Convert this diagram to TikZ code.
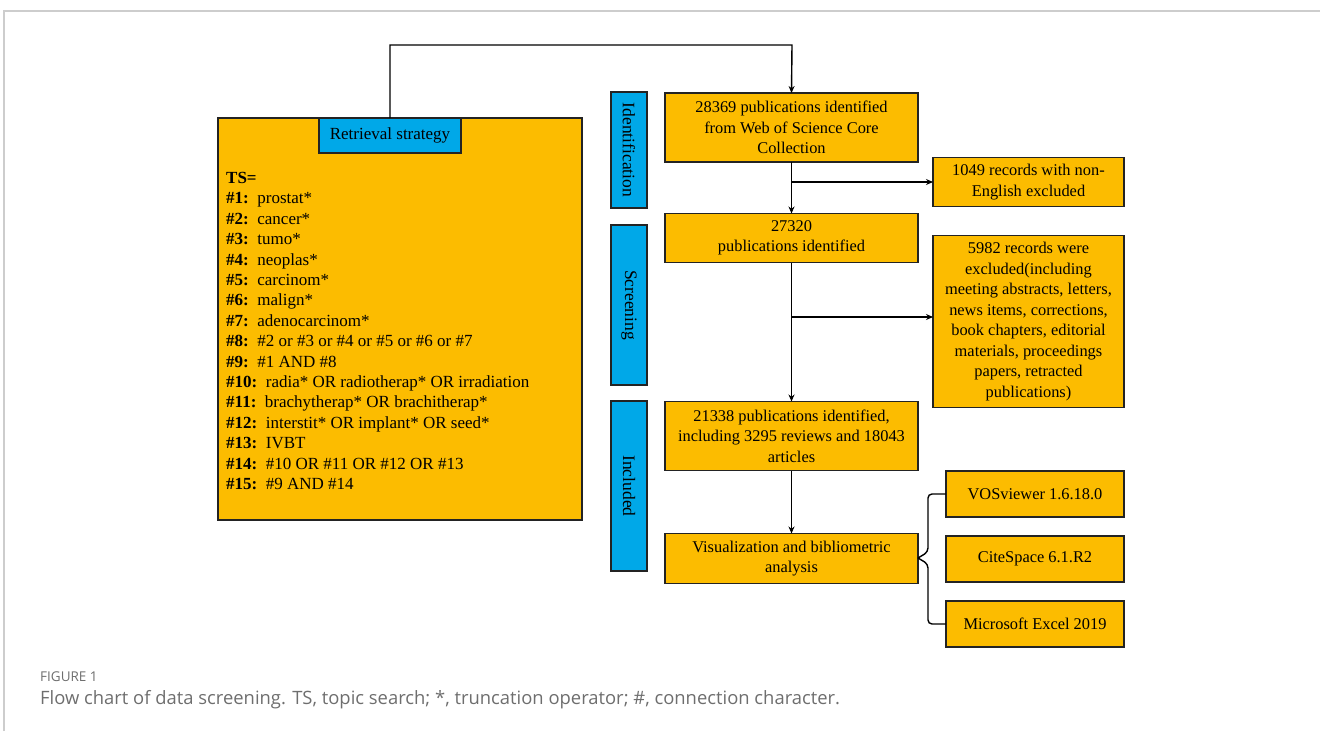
\documentclass[tikz,border=0pt]{standalone}
\usepackage{fontspec}
\setmainfont{Liberation Serif}
\newfontfamily\capfont{Open Sans}
\usetikzlibrary{arrows.meta}
\definecolor{gold}{RGB}{252,188,0}
\definecolor{sky}{RGB}{0,168,232}
\definecolor{edge}{RGB}{35,35,35}
\definecolor{frame}{RGB}{205,205,205}
\definecolor{capgray}{RGB}{110,110,110}
\tikzset{
  x=1pt,y=-1pt,
  obox/.style={draw=edge,fill=gold,line width=1.4pt,inner sep=0pt,outer sep=0pt,align=center,font=\fontsize{16.4}{20.5}\selectfont},
  bbox/.style={draw=edge,fill=sky,line width=1.4pt,inner sep=0pt,outer sep=0pt,align=center,font=\fontsize{17}{20.5}\selectfont},
  stagetext/.style={rotate=-90,font=\fontsize{17.5}{20.5}\selectfont},
  conn/.style={line width=1.4pt,black},
  arr/.style={conn,-{Stealth[length=7pt,width=6pt]}},
}
\begin{document}
\begin{tikzpicture}
\useasboundingbox (0,0) rectangle (1320,731);
% frame
\draw[frame,line width=1.5pt] (4,731) -- (4,11) -- (1320,11);
% left big box
\node[obox,minimum width=364pt,minimum height=402pt] (strat) at (400,319) {};
\node[bbox,minimum width=142pt,minimum height=35pt] (rs) at (390,135.5) {Retrieval strategy};
\node[anchor=north west,align=left,inner sep=0pt,font=\fontsize{17}{20.4}\selectfont] (terms) at (226,172) {%
\textbf{TS=}\\
\textbf{\#1:}\ \ prostat*\\
\textbf{\#2:}\ \ cancer*\\
\textbf{\#3:}\ \ tumo*\\
\textbf{\#4:}\ \ neoplas*\\
\textbf{\#5:}\ \ carcinom*\\
\textbf{\#6:}\ \ malign*\\
\textbf{\#7:}\ \ adenocarcinom*\\
\textbf{\#8:}\ \ \#2 or \#3 or \#4 or \#5 or \#6 or \#7\\
\textbf{\#9:}\ \ \#1 AND \#8\\
\textbf{\#10:}\ \ radia* OR radiotherap* OR irradiation\\
\textbf{\#11:}\ \ brachytherap* OR brachitherap*\\
\textbf{\#12:}\ \ interstit* OR implant* OR seed*\\
\textbf{\#13:}\ \ IVBT\\
\textbf{\#14:}\ \ \#10 OR \#11 OR \#12 OR \#13\\
\textbf{\#15:}\ \ \#9 AND \#14};
% stage labels
\node[bbox,minimum width=36pt,minimum height=116pt] (s1) at (629,150) {};
\node[stagetext] at (s1.center) {Identification};
\node[bbox,minimum width=36pt,minimum height=160pt] (s2) at (629,305) {};
\node[stagetext] at (s2.center) {Screening};
\node[bbox,minimum width=36pt,minimum height=170pt] (s3) at (629,486) {};
\node[stagetext] at (s3.center) {Included};
% main flow
\node[obox,minimum width=253pt,minimum height=69pt] (b1) at (791.5,127.5) {28369 publications identified\\from Web of Science Core\\Collection};
\node[obox,minimum width=253pt,minimum height=49pt] (b2) at (791.5,238) {27320\\publications identified};
\node[obox,minimum width=253pt,minimum height=69pt] (b3) at (791.5,436) {21338 publications identified,\\including 3295 reviews and 18043\\articles};
\node[obox,minimum width=253pt,minimum height=50pt] (b4) at (791.5,558.5) {Visualization and bibliometric\\analysis};
% side boxes
\node[obox,minimum width=191pt,minimum height=49pt] (xa) at (1028.5,182) {1049 records with non-\\English excluded};
\node[obox,minimum width=191pt,minimum height=172pt] (xb) at (1028.5,321.5) {5982 records were\\excluded(including\\meeting abstracts, letters,\\news items, corrections,\\book chapters, editorial\\materials, proceedings\\papers, retracted\\publications)};
\node[obox,minimum width=178pt,minimum height=46pt] (t1) at (1035,494) {VOSviewer 1.6.18.0};
\node[obox,minimum width=178pt,minimum height=46pt] (t2) at (1035,559) {CiteSpace 6.1.R2};
\node[obox,minimum width=178pt,minimum height=46pt] (t3) at (1035,624) {Microsoft Excel 2019};
% connectors
\coordinate (c1) at (390,45);
\coordinate (c2) at (792,45);
\draw[arr] (rs.north) -- (c1) -- (c2) -- (b1.north);
\draw[arr] (b1.south) -- (b2.north);
\coordinate (j1) at (792,182);
\draw[arr] (j1) -- (xa.west|-j1);
\draw[arr] (b2.south) -- (b3.north);
\coordinate (j2) at (792,317);
\draw[arr] (j2) -- (xb.west|-j2);
\draw[arr] (b3.south) -- (b4.north);
% brace
\draw[conn,rounded corners=4pt] (t1.west) -- (928,494) -- (928,552) -- (918,558);
\draw[conn,rounded corners=4pt] (t3.west) -- (928,624) -- (928,564) -- (918,558);
% caption
\node[anchor=west,inner sep=0pt,text=capgray,font=\capfont\fontsize{13.5}{16}\selectfont] (fig) at (40,677) {FIGURE 1};
\node[anchor=west,inner sep=0pt,text=capgray,font=\capfont\fontsize{18.4}{22}\selectfont] (cap) at (40,700) {Flow chart of data screening. TS, topic search; *, truncation operator; \#, connection character.};
\end{tikzpicture}
\end{document}
